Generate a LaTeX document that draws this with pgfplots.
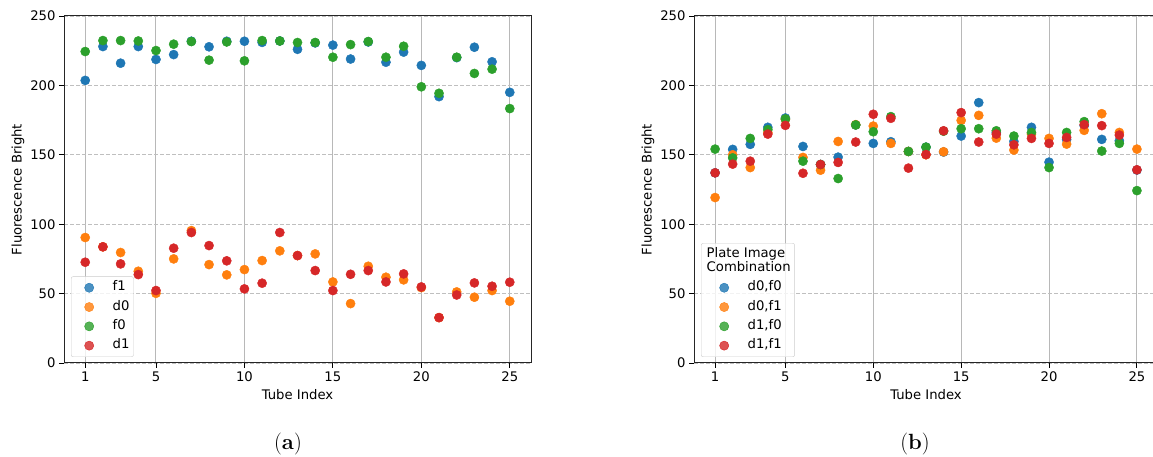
\documentclass[border=0pt]{standalone}
\usepackage{pgfplots}
\usepackage{pgfplotstable}
\pgfplotsset{compat=1.18}
\usepackage{fontspec}
\newfontfamily\dv{DejaVu Sans}
\definecolor{c0}{HTML}{1F77B4}
\definecolor{c1}{HTML}{FF7F0E}
\definecolor{c2}{HTML}{2CA02C}
\definecolor{c3}{HTML}{D62728}

\pgfplotstableread{
x f1 d0 f0 d1
1 203.6 90.4 224.4 72.6
2 228.0 83.7 232.3 83.7
3 216.0 79.6 232.3 71.4
4 228.0 66.1 232.0 63.7
5 218.7 50.2 225.1 52.2
6 222.2 75.0 229.7 82.7
7 231.8 95.4 231.6 94.0
8 227.8 70.9 218.2 84.6
9 231.8 63.5 231.3 73.6
10 231.8 67.3 217.7 53.4
11 231.0 73.8 232.3 57.5
12 232.0 80.8 232.0 94.0
13 226.0 77.4 230.9 77.4
14 230.6 78.6 230.9 66.6
15 229.0 58.4 220.3 52.2
16 219.0 42.8 229.4 63.9
17 231.3 69.7 231.6 66.6
18 216.7 61.8 220.3 58.4
19 224.0 59.9 228.2 64.2
20 214.4 54.3 199.0 54.8
21 191.9 32.7 194.3 32.7
22 220.0 51.2 220.3 49.0
23 227.5 47.4 208.6 57.7
24 217.0 52.2 211.7 55.3
25 195.0 44.5 183.3 58.2
}\tableA

\pgfplotstableread{
x a b c d
1 137.0 119.2 154.1 137.0
2 153.9 150.0 147.8 143.3
3 157.5 140.8 161.8 145.4
4 169.8 166.0 168.1 164.9
5 176.5 175.5 175.8 171.2
6 156.0 148.1 145.4 136.7
7 143.0 138.9 143.0 143.0
8 148.3 159.6 132.9 144.5
9 171.5 171.7 171.5 159.2
10 158.2 170.7 166.6 179.2
11 159.4 158.2 177.5 176.3
12 152.4 152.4 152.4 140.4
13 155.5 150.0 155.5 150.2
14 152.0 152.2 167.0 167.3
15 163.5 174.8 168.8 180.4
16 187.6 178.4 168.8 159.2
17 166.0 162.0 167.3 164.9
18 159.6 153.4 163.5 157.2
19 169.8 165.0 166.1 161.8
20 144.7 161.8 140.8 158.2
21 161.0 157.7 166.1 162.5
22 171.0 167.6 173.9 171.7
23 161.1 179.6 152.7 171.0
24 160.1 166.1 158.2 164.2
25 139.0 154.1 124.2 139.2
}\tableB

\pgfplotsset{
  myax/.style={
    scale only axis, height=347pt,
    ymin=0, ymax=250, xmin=-0.2, xmax=26.2,
    xtick={1,5,10,15,20,25}, ytick={0,50,...,250},
    tick align=outside, tick pos=left, major tick length=5pt,
    every tick/.style={black, line width=0.9pt},
    axis line style={line width=1pt, black!85},
    xmajorgrids, ymajorgrids,
    x grid style={color=black!28, line width=1pt},
    y grid style={color=black!25, dash pattern=on 4pt off 2pt, line width=0.8pt},
    font=\dv\fontsize{13.2}{15}\selectfont,
    /pgf/number format/assume math mode=true,
    xlabel={Tube Index}, ylabel={Fluorescence Bright},
    every axis y label/.style={at={(axis description cs:0,0.5)}, rotate=90, anchor=center, yshift=46pt},
    every axis x label/.style={at={(axis description cs:0.5,0)}, anchor=center, yshift=-32pt},
    legend cell align=left,
    legend style={at={(axis description cs:0,0)}, anchor=south west, xshift=7pt, yshift=6pt,
      draw=black!20, rounded corners=2pt, fill=white, fill opacity=0.8, text opacity=1,
      inner xsep=4pt, inner ysep=1.5pt, column sep=4pt,
      nodes={inner xsep=0pt, inner ysep=3.9pt, text height=9pt, text depth=2.5pt},
      font=\dv\fontsize{13.2}{15}\selectfont},
    legend image code/.code={%
      \draw[draw=none,fill=none] (-14pt,0pt) -- (19.5pt,0pt);
      \draw[#1] plot coordinates {(0pt,0pt)};},
    every axis plot/.append style={only marks, mark=*, mark size=4.6pt},
  }
}

\begin{document}
\begin{tikzpicture}
\begin{axis}[myax, width=467pt, at={(64pt,94pt)}, anchor=south west]
\addplot[color=c0] table[x=x,y=f1] {\tableA}; \addlegendentry{f1}
\addplot[color=c1] table[x=x,y=d0] {\tableA}; \addlegendentry{d0}
\addplot[color=c2] table[x=x,y=f0] {\tableA}; \addlegendentry{f0}
\addplot[color=c3] table[x=x,y=d1] {\tableA}; \addlegendentry{d1}
\end{axis}
\begin{axis}[myax, width=464pt, at={(694pt,94pt)}, anchor=south west,
  legend image code/.code={%
      \draw[draw=none,fill=none] (-19pt,0pt) -- (19.5pt,0pt);
      \draw[#1] plot coordinates {(0pt,0pt)};}]
\addlegendimage{empty legend}
\addlegendentry[text depth=16.5pt]{\hspace*{-41pt}\begin{tabular}[t]{@{}l@{}}Plate Image\\[-1.5pt]Combination\end{tabular}}
\addplot[color=c0] table[x=x,y=a] {\tableB}; \addlegendentry{d0,f0}
\addplot[color=c1] table[x=x,y=b] {\tableB}; \addlegendentry{d0,f1}
\addplot[color=c2] table[x=x,y=c] {\tableB}; \addlegendentry{d1,f0}
\addplot[color=c3] table[x=x,y=d] {\tableB}; \addlegendentry{d1,f1}
\end{axis}
\node at (288pt,13pt) {\fontsize{22}{26}\selectfont(\textbf{a})};
\node at (915pt,13pt) {\fontsize{22}{26}\selectfont(\textbf{b})};
\pgfresetboundingbox
\useasboundingbox (0pt,0pt) rectangle (1153pt,457pt);
\end{tikzpicture}
\end{document}
